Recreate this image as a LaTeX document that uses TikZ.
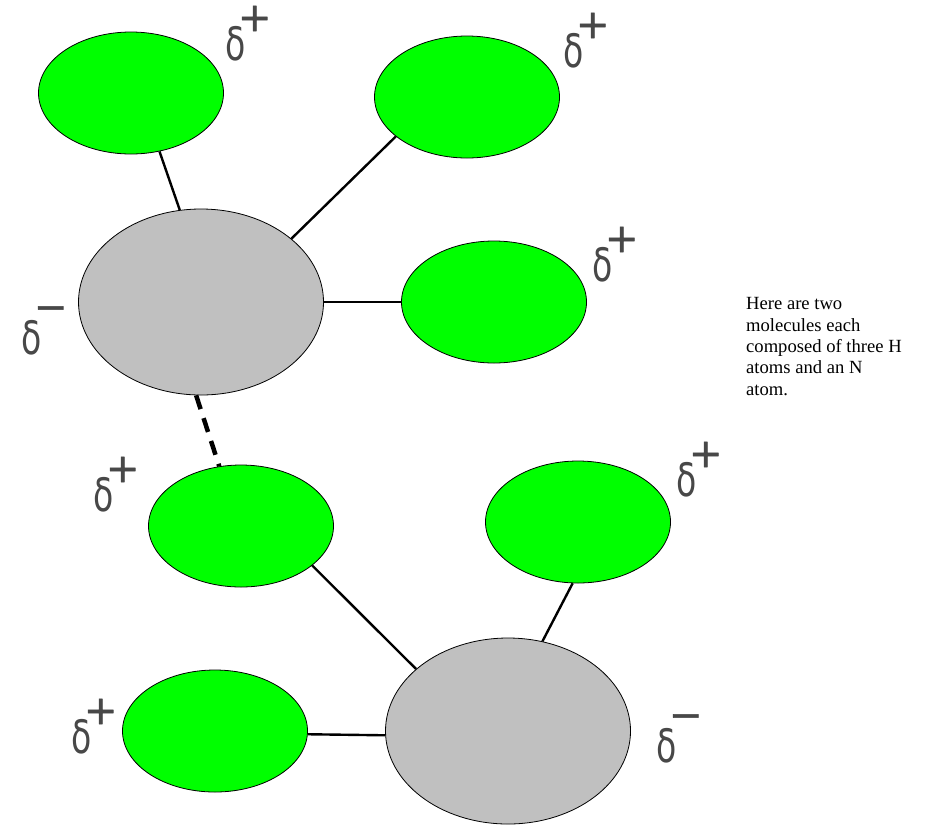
\documentclass[tikz,border=0pt]{standalone}
\usepackage{fontspec}
\usepackage{graphicx}
\setmainfont{Liberation Serif}
\newfontfamily\chargefont{DejaVu Sans}
\newfontfamily\signfont[FakeBold=1.5]{DejaVu Sans}
\usetikzlibrary{shapes.geometric}
\definecolor{hgreen}{RGB}{0,255,0}
\definecolor{ngray}{RGB}{192,192,192}
\definecolor{chargegray}{RGB}{72,72,72}
\newcommand{\deltachar}{\scalebox{0.72}[1]{\fontsize{46}{46}\chargefont δ}}
\newcommand{\dplus}{\deltachar\hspace{-7.5pt}\raisebox{29pt}{\fontsize{40}{40}\signfont +}}
\newcommand{\dminus}{\deltachar\hspace{-7.5pt}\raisebox{33.5pt}{\fontsize{40}{40}\signfont −}}

\begin{document}
\begin{tikzpicture}[x=1pt,y=-1pt,line cap=round,line join=round,
  atomH/.style={ellipse,draw=black,line width=0.8pt,fill=hgreen,inner sep=0pt,minimum width=185pt,minimum height=122pt},
  atomN/.style={ellipse,draw=black,line width=0.8pt,fill=ngray,inner sep=0pt,minimum width=245pt,minimum height=186pt},
  bond/.style={color=black,line width=2.4pt,line cap=butt},
  hbond/.style={color=black,line width=4.5pt,line cap=butt,dash pattern=on 14.5pt off 9.5pt},
  charge/.style={color=chargegray,inner sep=0pt,anchor=base west}]
\useasboundingbox (0,0) rectangle (949,839);
\foreach \name/\x/\y in {h1/131/93,h2/467/97,h3/494/302,h4/241/526,h5/578/522,h6/215/731}
\node[atomH] (\name) at (\x,\y) {};
\node[atomN] (n1) at (201,302) {};
\node[atomN] (n2) at (508,731) {};
\draw[bond] (h1.-64) -- (n1.103);
\draw[bond] (h2.209) -- (n1.35);
\draw[bond] (n1) -- (h3);
\draw[bond] (h4.-29) -- (n2.146);
\draw[bond] (h5.265) -- (n2.69);
\draw[bond] (h6.-2) -- (n2.182);
\draw[hbond] (n1.267) -- (h4.110);
\foreach \name/\x/\y in {p1/225/60,p2/563/67,p3/592/281,p4/93/511,p5/676/496,p6/71/753}
\node[charge] (\name) at (\x,\y) {\dplus};
\node[charge] (m1) at (21,354) {\dminus};
\node[charge] (m2) at (656,762) {\dminus};
\node[anchor=north west,align=left,inner sep=0pt,font=\fontsize{18.6}{21.3}\selectfont] (note) at (746,297.5)
  {Here are two\\molecules each\\composed of three H\\atoms and an N\\atom.};
\end{tikzpicture}
\end{document}
